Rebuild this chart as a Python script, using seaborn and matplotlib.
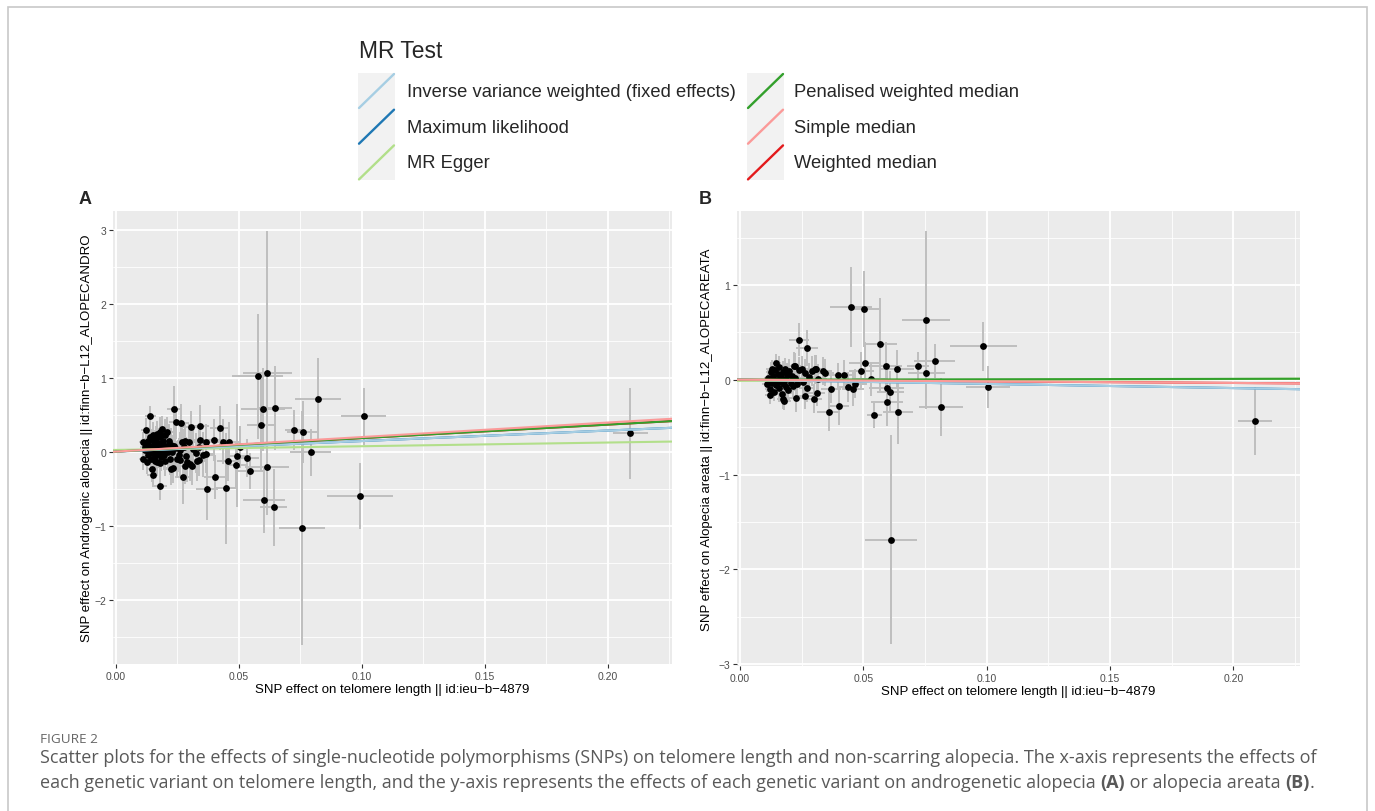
import numpy as np
import pandas as pd
import matplotlib
matplotlib.use("Agg")
import matplotlib.pyplot as plt
import seaborn as sns
from matplotlib.lines import Line2D
from matplotlib.patches import Rectangle
from matplotlib.ticker import FixedLocator, FixedFormatter

# ---------------- data ----------------
methods = ["Inverse variance weighted (fixed effects)", "Maximum likelihood", "MR Egger",
           "Penalised weighted median", "Simple median", "Weighted median"]
method_colors = ["#A6CEE3", "#1F78B4", "#B2DF8A", "#33A02C", "#FB9A99", "#E31A1C"]

# Panel A: androgenic alopecia
a_intercept = [0.0, 0.0, 0.022, 0.0, 0.0, 0.0]
a_slope = [1.42, 1.42, 0.50, 1.82, 1.96, 1.82]

a_bx = [0.0576, 0.0616, 0.0598, 0.0645, 0.0592, 0.0726, 0.0760, 0.0821, 0.1008, 0.0792,
        0.0614, 0.0603, 0.0642, 0.0757, 0.0992, 0.2093,
        0.0139, 0.0237, 0.0245, 0.0264, 0.0306, 0.0340, 0.0424, 0.0122, 0.0169, 0.0180,
        0.0187, 0.0207, 0.0112, 0.0132, 0.0146, 0.0118, 0.0139, 0.0159, 0.0187, 0.0214,
        0.0237, 0.0268, 0.0299, 0.0340, 0.0367, 0.0397, 0.0435, 0.0458, 0.0112, 0.0125,
        0.0146, 0.0150, 0.0180, 0.0159, 0.0180, 0.0200, 0.0224, 0.0248, 0.0271, 0.0282,
        0.0291, 0.0302, 0.0309, 0.0329, 0.0356, 0.0370, 0.0401, 0.0448, 0.0456, 0.0493,
        0.0533, 0.0547, 0.0490, 0.0503, 0.0338, 0.0280, 0.0365, 0.0336, 0.0232, 0.0260,
        0.0120, 0.0125, 0.0130, 0.0135, 0.0140, 0.0142, 0.0148, 0.0150, 0.0152, 0.0155,
        0.0160, 0.0162, 0.0165, 0.0168, 0.0170, 0.0172, 0.0175, 0.0178, 0.0182, 0.0185,
        0.0190, 0.0193, 0.0196, 0.0200, 0.0205, 0.0210, 0.0215, 0.0220, 0.0225, 0.0230,
        0.0240, 0.0255, 0.0260, 0.0275, 0.0285, 0.0315, 0.0325]
a_by = [1.016, 1.060, 0.570, 0.585, 0.360, 0.290, 0.265, 0.705, 0.474, -0.009,
        -0.208, -0.655, -0.752, -1.034, -0.600, 0.245,
        0.477, 0.572, 0.396, 0.387, 0.333, 0.351, 0.315, 0.293, 0.239, 0.270,
        0.306, 0.261, 0.126, 0.149, 0.081, 0.059, 0.193, 0.104, 0.104, 0.149,
        0.072, 0.126, 0.126, 0.158, 0.135, 0.158, 0.135, 0.135, -0.099, -0.144,
        -0.234, -0.310, -0.468, -0.122, -0.158, -0.122, -0.234, -0.099, -0.347, -0.189,
        -0.144, -0.167, -0.189, -0.122, -0.041, -0.505, -0.347, -0.495, -0.122, -0.054,
        -0.085, -0.266, -0.176, 0.059, 0.068, 0.145, -0.036, -0.113, -0.226, -0.120,
        0.020, 0.100, -0.050, 0.000, 0.040, -0.100, 0.150, 0.220, -0.020, 0.060,
        -0.060, 0.180, 0.010, -0.140, 0.120, 0.030, -0.030, 0.200, 0.080, -0.080,
        0.140, 0.020, -0.050, 0.220, 0.070, -0.010, 0.050, -0.100, 0.090, 0.000,
        0.050, -0.040, 0.020, 0.060, -0.060, 0.040, -0.020]
a_sx = [0.0105, 0.0100, 0.0088, 0.0070, 0.0060, 0.0040, 0.0065, 0.0094, 0.0091, 0.0082,
        0.0090, 0.0085, 0.0055, 0.0094, 0.0135, 0.0073,
        0.0022, 0.0030, 0.0030, 0.0032, 0.0034, 0.0038, 0.0040, 0.0020, 0.0025, 0.0026,
        0.0026, 0.0028, 0.0019, 0.0021, 0.0022, 0.0020, 0.0022, 0.0024, 0.0026, 0.0029,
        0.0030, 0.0032, 0.0033, 0.0036, 0.0038, 0.0040, 0.0042, 0.0043, 0.0019, 0.0020,
        0.0022, 0.0023, 0.0026, 0.0024, 0.0026, 0.0027, 0.0029, 0.0031, 0.0032, 0.0033,
        0.0033, 0.0034, 0.0034, 0.0036, 0.0037, 0.0045, 0.0041, 0.0046, 0.0043, 0.0046,
        0.0048, 0.0050, 0.0046, 0.0047, 0.0036, 0.0033, 0.0038, 0.0036, 0.0030, 0.0032,
        0.0020, 0.0020, 0.0021, 0.0021, 0.0022, 0.0022, 0.0022, 0.0023, 0.0023, 0.0023,
        0.0024, 0.0024, 0.0024, 0.0025, 0.0025, 0.0025, 0.0025, 0.0026, 0.0026, 0.0026,
        0.0026, 0.0027, 0.0027, 0.0027, 0.0028, 0.0028, 0.0029, 0.0029, 0.0029, 0.0030,
        0.0030, 0.0031, 0.0032, 0.0032, 0.0033, 0.0035, 0.0035]
a_sy = [0.84, 1.92, 0.56, 0.57, 0.62, 0.27, 0.42, 0.556, 0.384, 0.32,
        0.55, 0.44, 0.52, 1.58, 0.45, 0.62,
        0.14, 0.32, 0.22, 0.25, 0.22, 0.28, 0.30, 0.16, 0.18, 0.20,
        0.17, 0.21, 0.14, 0.15, 0.16, 0.13, 0.17, 0.19, 0.20, 0.22,
        0.24, 0.26, 0.25, 0.30, 0.24, 0.28, 0.30, 0.26, 0.15, 0.16,
        0.18, 0.17, 0.19, 0.20, 0.18, 0.21, 0.22, 0.24, 0.36, 0.25,
        0.27, 0.23, 0.26, 0.28, 0.30, 0.42, 0.30, 0.75, 0.28, 0.70,
        0.26, 0.24, 0.30, 0.28, 0.22, 0.24, 0.25, 0.22, 0.20, 0.22,
        0.13, 0.15, 0.14, 0.16, 0.15, 0.17, 0.16, 0.18, 0.15, 0.17,
        0.18, 0.16, 0.19, 0.17, 0.18, 0.20, 0.19, 0.17, 0.20, 0.18,
        0.21, 0.19, 0.20, 0.22, 0.21, 0.20, 0.22, 0.21, 0.23, 0.22,
        0.24, 0.23, 0.25, 0.24, 0.26, 0.25, 0.27]

# Panel B: alopecia areata
b_intercept = [0.0, 0.0, -0.012, 0.0, 0.0, 0.0]
b_slope = [-0.44, -0.44, 0.10, 0.045, -0.17, -0.17]

b_bx = [0.0449, 0.0503, 0.0754, 0.0987, 0.0569, 0.0789, 0.0590, 0.0722, 0.0508, 0.0636,
        0.0756, 0.0492, 0.0532, 0.1005, 0.0594, 0.0610, 0.0597, 0.0816, 0.0545, 0.0640,
        0.0359, 0.0401, 0.0612, 0.2088, 0.0238, 0.0272, 0.0370, 0.0436, 0.0458, 0.0468,
        0.0398, 0.0423, 0.0345, 0.0337, 0.0308, 0.0311, 0.0299, 0.0264, 0.0228, 0.0180,
        0.0220, 0.0223, 0.0122, 0.0176,
        0.0110, 0.0115, 0.0120, 0.0125, 0.0128, 0.0130, 0.0135, 0.0138, 0.0140, 0.0145,
        0.0148, 0.0150, 0.0155, 0.0158, 0.0160, 0.0165, 0.0168, 0.0172, 0.0175, 0.0178,
        0.0182, 0.0185, 0.0188, 0.0192, 0.0196, 0.0200, 0.0205, 0.0210, 0.0215, 0.0225,
        0.0232, 0.0240, 0.0250, 0.0255, 0.0262, 0.0270, 0.0280, 0.0290, 0.0304, 0.0318]
b_by = [0.764, 0.750, 0.630, 0.354, 0.375, 0.196, 0.150, 0.140, 0.175, 0.112,
        0.074, 0.091, 0.010, -0.077, -0.084, -0.130, -0.235, -0.287, -0.371, -0.343,
        -0.336, -0.277, -1.688, -0.438, 0.424, 0.333, -0.095, -0.077, -0.100, -0.040,
        0.046, 0.053, 0.074, 0.090, 0.116, -0.140, -0.200, -0.170, -0.190, -0.220,
        0.150, 0.150, -0.158, -0.200,
        -0.050, 0.020, -0.100, 0.080, 0.116, -0.030, 0.040, -0.130, 0.100, 0.175,
        -0.060, 0.000, 0.060, -0.090, 0.130, -0.020, 0.030, -0.150, 0.080, -0.040,
        0.110, 0.010, -0.080, 0.050, -0.110, 0.090, -0.030, 0.040, -0.070, 0.020,
        -0.050, 0.100, 0.116, -0.020, 0.070, -0.090, 0.030, 0.090, 0.109, 0.010]
b_sx = [0.0086, 0.0060, 0.0096, 0.0134, 0.0068, 0.0083, 0.0065, 0.0045, 0.0065, 0.0070,
        0.0075, 0.0050, 0.0060, 0.0090, 0.0070, 0.0055, 0.0065, 0.0090, 0.0030, 0.0060,
        0.0045, 0.0042, 0.0104, 0.0070, 0.0040, 0.0045, 0.0040, 0.0043, 0.0045, 0.0045,
        0.0040, 0.0042, 0.0038, 0.0037, 0.0035, 0.0035, 0.0034, 0.0033, 0.0030, 0.0026,
        0.0030, 0.0030, 0.0020, 0.0025,
        0.0019, 0.0019, 0.0020, 0.0020, 0.0021, 0.0021, 0.0021, 0.0022, 0.0022, 0.0022,
        0.0023, 0.0023, 0.0023, 0.0024, 0.0024, 0.0024, 0.0025, 0.0025, 0.0025, 0.0025,
        0.0026, 0.0026, 0.0026, 0.0027, 0.0027, 0.0027, 0.0028, 0.0028, 0.0028, 0.0029,
        0.0030, 0.0030, 0.0031, 0.0031, 0.0032, 0.0032, 0.0033, 0.0033, 0.0034, 0.0035]
b_sy = [0.42, 0.40, 0.94, 0.26, 0.49, 0.18, 0.25, 0.15, 0.22, 0.20,
        0.27, 0.20, 0.18, 0.22, 0.20, 0.22, 0.25, 0.31, 0.14, 0.33,
        0.21, 0.20, 1.10, 0.36, 0.17, 0.19, 0.15, 0.16, 0.18, 0.15,
        0.13, 0.16, 0.14, 0.15, 0.15, 0.14, 0.15, 0.14, 0.15, 0.10,
        0.14, 0.13, 0.10, 0.11,
        0.08, 0.09, 0.08, 0.10, 0.09, 0.08, 0.10, 0.09, 0.11, 0.10,
        0.09, 0.10, 0.11, 0.10, 0.12, 0.10, 0.11, 0.10, 0.12, 0.11,
        0.12, 0.11, 0.12, 0.13, 0.12, 0.13, 0.12, 0.13, 0.12, 0.14,
        0.13, 0.14, 0.13, 0.14, 0.15, 0.14, 0.15, 0.16, 0.15, 0.16]

x_ticks = [0.00, 0.05, 0.10, 0.15, 0.20]
x_tick_labels = ["0.00", "0.05", "0.10", "0.15", "0.20"]
a_yticks = [-2, -1, 0, 1, 2, 3]
b_yticks = [-3, -2, -1, 0, 1]

x_title = "SNP effect on telomere length || id:ieu\u2212b\u22124879"
a_y_title = "SNP effect on Androgenic alopecia || id:finn\u2212b\u2212L12_ALOPECANDRO"
b_y_title = "SNP effect on Alopecia areata || id:finn\u2212b\u2212L12_ALOPECAREATA"

caption_head = "FIGURE 2"
caption_line1 = ("Scatter plots for the effects of single-nucleotide polymorphisms (SNPs) on telomere length "
                 "and non-scarring alopecia. The x-axis represents the effects of")
caption_line2 = [("each genetic variant on telomere length, and the y-axis represents the effects of each "
                  "genetic variant on androgenetic alopecia ", "normal"),
                 ("(A)", "bold"), (" or alopecia areata ", "normal"), ("(B)", "bold"), (".", "normal")]

# ---------------- figure ----------------
sns.set_theme(style="darkgrid")
plt.rcParams['font.family'] = ['Liberation Sans', 'DejaVu Sans']

W, H = 1375, 812
fig = plt.figure(figsize=(W / 100, H / 100), dpi=100)
fig.patch.set_facecolor("white")


def fx(px):
    return px / W


def fy(py):
    return 1 - py / H


draw_order = [1, 5, 2, 0, 3, 4]


def draw_panel(rect, bx, by, sx, sy, icpt, slope, xlim, ylim, yticks, yminor, ylabel, ylab_x):
    ax = fig.add_axes(rect)
    ax.set_facecolor("#EBEBEB")
    ax.errorbar(bx, by, yerr=sy, fmt="none", ecolor="#BEBEBE", elinewidth=1.4, capsize=0, zorder=2)
    ax.errorbar(bx, by, xerr=sx, fmt="none", ecolor="#BEBEBE", elinewidth=1.4, capsize=0, zorder=2)
    df = pd.DataFrame({"bx": bx, "by": by})
    sns.scatterplot(data=df, x="bx", y="by", ax=ax, color="black", s=24, linewidth=0, zorder=3)
    for i in draw_order:
        ax.axline((0, icpt[i]), slope=slope[i], color=method_colors[i], lw=1.5, zorder=4)
    ax.set_xlim(*xlim)
    ax.set_ylim(*ylim)
    ax.xaxis.set_major_locator(FixedLocator(x_ticks))
    ax.xaxis.set_major_formatter(FixedFormatter(x_tick_labels))
    ax.xaxis.set_minor_locator(FixedLocator([0.025, 0.075, 0.125, 0.175, 0.225]))
    ax.yaxis.set_major_locator(FixedLocator(yticks))
    ax.yaxis.set_major_formatter(FixedFormatter([str(t).replace("-", "\u2212") for t in yticks]))
    ax.yaxis.set_minor_locator(FixedLocator(yminor))
    ax.set_axisbelow(True)
    ax.grid(which="major", color="white", lw=1.3)
    ax.grid(which="minor", color="white", lw=0.6)
    for s in ax.spines.values():
        s.set_visible(False)
    ax.tick_params(axis="both", which="major", bottom=True, left=True, length=2.8, width=0.8,
                   color="#333333", labelcolor="#4D4D4D", labelsize=7.5, pad=2)
    ax.tick_params(axis="both", which="minor", bottom=False, left=False, length=0)
    ax.set_xlabel(x_title, fontsize=9.5, color="black")
    ax.set_ylabel(ylabel, fontsize=9.5, color="black")
    ax.xaxis.set_label_coords(0.5, -0.041)
    ax.yaxis.set_label_coords(ylab_x, 0.5)
    return ax


axA = draw_panel([fx(113), fy(665), (672 - 113) / W, (665 - 212) / H],
                 a_bx, a_by, a_sx, a_sy, a_intercept, a_slope,
                 (-0.0012, 0.2262), (-2.87, 3.25), a_yticks,
                 [-2.5, -1.5, -0.5, 0.5, 1.5, 2.5], a_y_title, -0.036)
axB = draw_panel([fx(737), fy(667), (1300 - 737) / W, (667 - 212) / H],
                 b_bx, b_by, b_sx, b_sy, b_intercept, b_slope,
                 (-0.0012, 0.2270), (-3.02, 1.78), b_yticks,
                 [-2.5, -1.5, -0.5, 0.5, 1.5], b_y_title, -0.043)

# panel letters
fig.text(fx(85), fy(200), "A", fontsize=13, fontweight="bold", ha="center", va="center")
fig.text(fx(705), fy(200), "B", fontsize=13, fontweight="bold", ha="center", va="center")

# legend
fig.text(fx(359), fy(52), "MR Test", fontsize=16.4, ha="left", va="center")
key_x = [358, 747]
lab_x = [407, 794]
for i, (m, c) in enumerate(zip(methods, method_colors)):
    col, row = i // 3, i % 3
    x0 = key_x[col]
    y0 = 74 + 35.7 * row
    fig.add_artist(Rectangle((fx(x0), fy(y0 + 36)), 37 / W, 36 / H, transform=fig.transFigure,
                             facecolor="#F2F2F2", edgecolor="none"))
    fig.add_artist(Line2D([fx(x0 + 1), fx(x0 + 36)], [fy(y0 + 35), fy(y0 + 1)],
                          transform=fig.transFigure, color=c, lw=1.7))
    fig.text(fx(lab_x[col]), fy(y0 + 18.5), m, fontsize=13.2, ha="left", va="center")

# border
fig.add_artist(Rectangle((fx(8), fy(840)), (1367 - 8) / W, (840 - 8) / H, transform=fig.transFigure,
                         facecolor="none", edgecolor="#C8C8C8", lw=1.2))

# caption
cap_fam = ['Liberation Sans Narrow', 'Open Sans', 'DejaVu Sans']
renderer = fig.canvas.get_renderer()
probe = fig.text(0, 0, caption_line1, fontsize=12, family=cap_fam)
w_probe = probe.get_window_extent(renderer).width
probe.remove()
cap_fs = 12 * 1268 / w_probe
fig.text(fx(40), fy(740), caption_head, fontsize=cap_fs * 0.75, family=cap_fam, color="#666666",
         ha="left", va="center")
fig.text(fx(40), fy(758), caption_line1, fontsize=cap_fs, family=cap_fam, color="#595959",
         ha="left", va="center")


def seg_width(s, weight):
    t1 = fig.text(0, 0, s + "|", fontsize=cap_fs, family=cap_fam, fontweight=weight)
    t2 = fig.text(0, 0, "|", fontsize=cap_fs, family=cap_fam, fontweight=weight)
    w = t1.get_window_extent(renderer).width - t2.get_window_extent(renderer).width
    t1.remove()
    t2.remove()
    return w


xpos = 40.0
for s, wgt in caption_line2:
    fig.text(fx(xpos), fy(783), s, fontsize=cap_fs, family=cap_fam, fontweight=wgt,
             color="#595959", ha="left", va="center")
    xpos += seg_width(s, wgt)

fig.savefig("out.png", dpi=100)
